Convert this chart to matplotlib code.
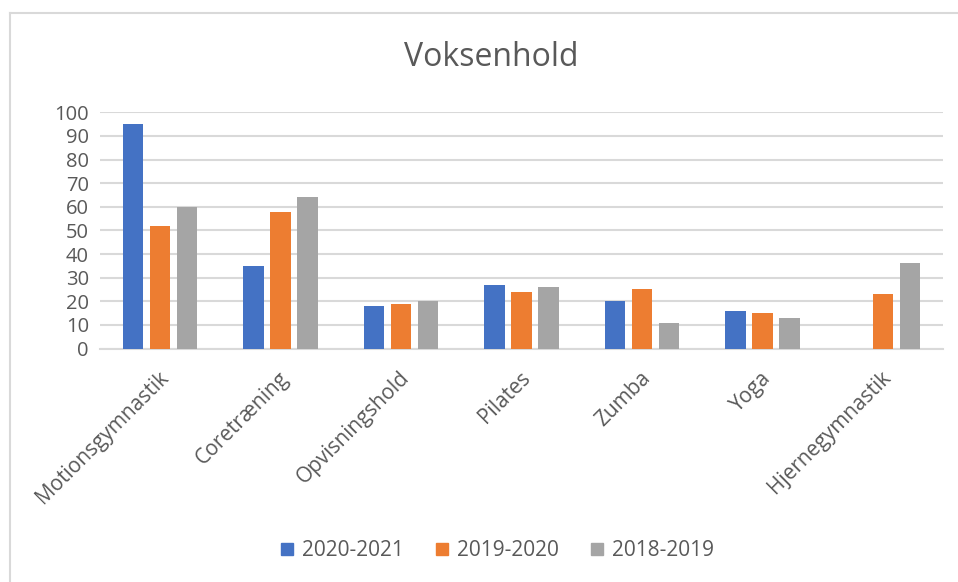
import numpy as np
import matplotlib.pyplot as plt
from matplotlib.lines import Line2D
import matplotlib.transforms as mtransforms

categories = ['Motionsgymnastik', 'Coretræning', 'Opvisningshold', 'Pilates',
              'Zumba', 'Yoga', 'Hjernegymnastik']
s2020_2021 = [95, 35, 18, 27, 20, 16, 0]
s2019_2020 = [52, 58, 19, 24, 25, 15, 23]
s2018_2019 = [60, 64, 20, 26, 11, 13, 36]
series_labels = ['2020-2021', '2019-2020', '2018-2019']
colors = ['#4472C4', '#ED7D31', '#A5A5A5']

plt.rcParams['font.family'] = ['Open Sans', 'DejaVu Sans']
txt = '#595959'
gridc = '#D9D9D9'

fig = plt.figure(figsize=(9.58, 5.82), dpi=100)
ax = fig.add_axes([100/958, 1 - 348.5/582, 843/958, (348.5 - 112.3)/582])

x = np.arange(len(categories))
step = 0.224
width = 0.17
for i, (vals, c) in enumerate(zip([s2020_2021, s2019_2020, s2018_2019], colors)):
    ax.bar(x + (i - 1) * step, vals, width=width, color=c, zorder=3)

ax.set_xlim(-0.5, len(categories) - 0.5)
ax.set_ylim(0, 100)
ax.set_yticks(range(0, 101, 10))
ax.yaxis.grid(True, color=gridc, linewidth=1.5, zorder=0)
for s in ['top', 'right', 'left']:
    ax.spines[s].set_visible(False)
ax.spines['bottom'].set_color(gridc)
ax.spines['bottom'].set_linewidth(1.5)
ax.tick_params(axis='both', length=0, colors=txt)
ax.tick_params(axis='y', pad=8, labelsize=14.5)
ax.tick_params(axis='x', labelsize=15)
ax.set_xticks(x)
ax.set_xticklabels(categories, rotation=45, ha='right', rotation_mode='anchor')
offset = mtransforms.ScaledTranslation(-2/100, -14/100, fig.dpi_scale_trans)
for lbl in ax.get_xticklabels():
    lbl.set_transform(lbl.get_transform() + offset)

fig.text(491/958, 1 - 58/582, 'Voksenhold', ha='center', va='center',
         fontsize=23, color=txt)

handles = [Line2D([], [], marker='s', linestyle='none', markersize=8,
                  markerfacecolor=c, markeredgecolor=c) for c in colors]
fig.legend(handles, series_labels, loc='center', bbox_to_anchor=(497/958, 1 - 551/582),
           ncol=3, frameon=False, fontsize=15, labelcolor=txt,
           handlelength=0.7, handletextpad=0.35, columnspacing=1.5)

# chart area frame (only left and top edges visible in the crop)
fig.add_artist(Line2D([10/958, 10/958], [1 - 13/582, 0], color=gridc, lw=1.5,
                      transform=fig.transFigure))
fig.add_artist(Line2D([10/958, 1], [1 - 13/582, 1 - 13/582], color=gridc, lw=1.5,
                      transform=fig.transFigure))

fig.savefig('out.png', dpi=100)
